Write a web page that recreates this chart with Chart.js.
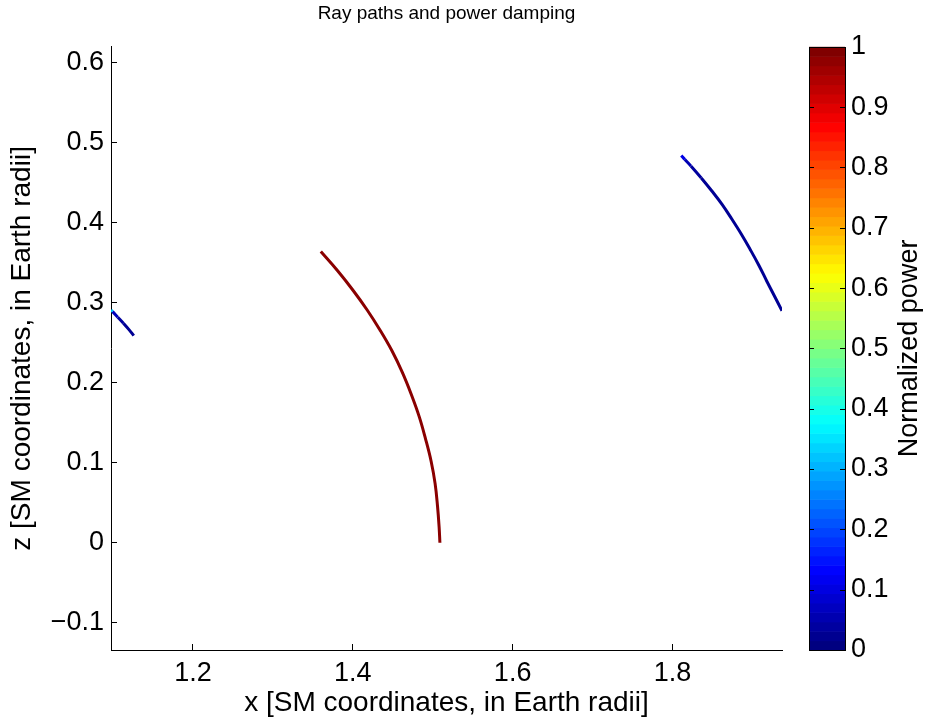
<!DOCTYPE html>
<html lang="en">
<head>
    <meta charset="UTF-8">
    <title>Ray paths and power damping</title>
    <script src="https://cdn.jsdelivr.net/npm/chart.js"></script>
    <style>
        body { margin: 0; background: #fff; }
    </style>
</head>
<body>
    <canvas id="rayChart" width="925" height="721"></canvas>
    <script>
        // ray 1 (left edge, damped)
        const ray1X = [1.0975, 1.0995, 1.106, 1.113, 1.120, 1.126];
        const ray1Z = [0.291, 0.289, 0.282, 0.2745, 0.2665, 0.259];
        const ray1P = [0.32, 0.06, 0.03, 0.02, 0.02, 0.02];

        // ray 2 (middle, full power)
        const ray2X = [1.360, 1.381, 1.400, 1.418, 1.434, 1.449, 1.462, 1.473, 1.483, 1.491, 1.498, 1.503, 1.506, 1.508, 1.509];
        const ray2Z = [0.364, 0.340, 0.316, 0.291, 0.266, 0.240, 0.213, 0.186, 0.158, 0.130, 0.102, 0.074, 0.046, 0.020, 0.0];
        const ray2P = [0.99, 0.99, 0.99, 0.99, 0.99, 0.99, 0.99, 0.99, 0.99, 0.99, 0.99, 0.99, 0.99, 0.99, 0.99];

        // ray 3 (right, damped)
        const ray3X = [1.811, 1.8155, 1.823, 1.836, 1.849, 1.862, 1.874, 1.886, 1.897, 1.908, 1.918, 1.928, 1.937];
        const ray3Z = [0.484, 0.479, 0.471, 0.456, 0.440, 0.423, 0.405, 0.386, 0.367, 0.347, 0.327, 0.3075, 0.290];
        const ray3P = [0.10, 0.05, 0.03, 0.02, 0.02, 0.02, 0.02, 0.02, 0.02, 0.02, 0.02, 0.02, 0.02];

        const xTicks = [1.2, 1.4, 1.6, 1.8];
        const zTicks = [-0.1, 0, 0.1, 0.2, 0.3, 0.4, 0.5, 0.6];
        const powerTicks = [0, 0.1, 0.2, 0.3, 0.4, 0.5, 0.6, 0.7, 0.8, 0.9, 1];

        const powers = [ray1P, ray2P, ray3P];

        function jet(t) {
            const c = v => Math.round(255 * Math.max(0, Math.min(1, v)));
            const r = c(1.5 - Math.abs(4 * t - 3));
            const g = c(1.5 - Math.abs(4 * t - 2));
            const b = c(1.5 - Math.abs(4 * t - 1));
            return `rgb(${r},${g},${b})`;
        }

        function toPoints(xs, zs) {
            return xs.map((x, i) => ({ x: x, y: zs[i] }));
        }

        function rayDataset(xs, zs, ps) {
            return {
                data: toPoints(xs, zs),
                showLine: true,
                borderColor: jet(ps[ps.length - 1]),
                borderWidth: 3,
                pointRadius: 0,
                tension: 0.4,
                fill: false,
                segment: {
                    borderColor: c => jet(powers[c.datasetIndex][c.p0DataIndex])
                }
            };
        }

        function fmt(v) {
            if (v < 0) return '\u2212' + Math.abs(v);
            return String(v);
        }

        // colour bar drawn against the 'cbar' scale
        const colorbar = {
            id: 'colorbar',
            afterDraw(chart) {
                const s = chart.scales.cbar;
                const ctx = chart.ctx;
                const x0 = s.left + 27, w = 36;
                const top = s.getPixelForValue(1), bot = s.getPixelForValue(0);
                ctx.save();
                for (let i = 0; i < 64; i++) {
                    const ya = s.getPixelForValue(i / 64);
                    const yb = s.getPixelForValue((i + 1) / 64);
                    ctx.fillStyle = jet(i / 63);
                    ctx.fillRect(x0, yb, w, ya - yb + 0.6);
                }
                ctx.strokeStyle = '#000';
                ctx.lineWidth = 1;
                ctx.strokeRect(x0 + 0.5, Math.round(top) + 0.5, w, Math.round(bot - top));
                ctx.beginPath();
                powerTicks.forEach(v => {
                    const y = Math.round(s.getPixelForValue(v)) + 0.5;
                    ctx.moveTo(x0, y); ctx.lineTo(x0 + 5, y);
                    ctx.moveTo(x0 + w, y); ctx.lineTo(x0 + w - 5, y);
                });
                ctx.stroke();
                ctx.translate(s.left + 128, (top + bot) / 2);
                ctx.rotate(-Math.PI / 2);
                ctx.fillStyle = '#000';
                ctx.font = '27px "Liberation Sans", Arial, sans-serif';
                ctx.textAlign = 'center';
                ctx.textBaseline = 'middle';
                ctx.fillText('Normalized power', 0, 0);
                ctx.restore();
            }
        };

        Chart.defaults.font.family = '"Liberation Sans", Arial, sans-serif';
        Chart.defaults.color = '#000';

        new Chart(document.getElementById('rayChart'), {
            type: 'scatter',
            data: {
                datasets: [
                    rayDataset(ray1X, ray1Z, ray1P),
                    rayDataset(ray2X, ray2Z, ray2P),
                    rayDataset(ray3X, ray3Z, ray3P)
                ]
            },
            options: {
                responsive: false,
                animation: false,
                layout: { padding: 0 },
                plugins: {
                    legend: { display: false },
                    tooltip: { enabled: false },
                    title: {
                        display: true,
                        text: 'Ray paths and power damping',
                        fullSize: false,
                        font: { size: 19, weight: 'normal' },
                        color: '#000',
                        padding: { top: 2, bottom: 22 }
                    }
                },
                scales: {
                    x: {
                        type: 'linear',
                        position: 'bottom',
                        min: 1.0975,
                        max: 1.937,
                        afterBuildTicks: s => { s.ticks = xTicks.map(v => ({ value: v })); },
                        afterFit: s => { s.height = 71; },
                        grid: { drawOnChartArea: false, tickLength: -6, color: '#000' },
                        border: { color: '#000' },
                        ticks: { font: { size: 27 }, padding: 13, callback: v => fmt(v) },
                        title: {
                            display: true,
                            text: 'x [SM coordinates, in Earth radii]',
                            font: { size: 28 },
                            padding: { top: 0, bottom: 1 }
                        }
                    },
                    y: {
                        type: 'linear',
                        position: 'left',
                        min: -0.134,
                        max: 0.62,
                        afterBuildTicks: s => { s.ticks = zTicks.map(v => ({ value: v })); },
                        afterFit: s => { s.width = 111; },
                        grid: { drawOnChartArea: false, tickLength: -6, color: '#000' },
                        border: { color: '#000' },
                        ticks: { font: { size: 27 }, padding: 13, callback: v => fmt(v) },
                        title: {
                            display: true,
                            text: 'z [SM coordinates, in Earth radii]',
                            font: { size: 28 },
                            padding: { top: 5, bottom: 0 }
                        }
                    },
                    cbar: {
                        type: 'linear',
                        position: 'right',
                        min: 0,
                        max: 1,
                        afterBuildTicks: s => { s.ticks = powerTicks.map(v => ({ value: v })); },
                        afterFit: s => { s.width = 143; },
                        grid: { display: false, drawTicks: true, tickLength: 66 },
                        border: { display: false },
                        ticks: { font: { size: 27 }, padding: 3, callback: v => fmt(v) }
                    }
                }
            },
            plugins: [colorbar]
        });
    </script>
</body>
</html>
